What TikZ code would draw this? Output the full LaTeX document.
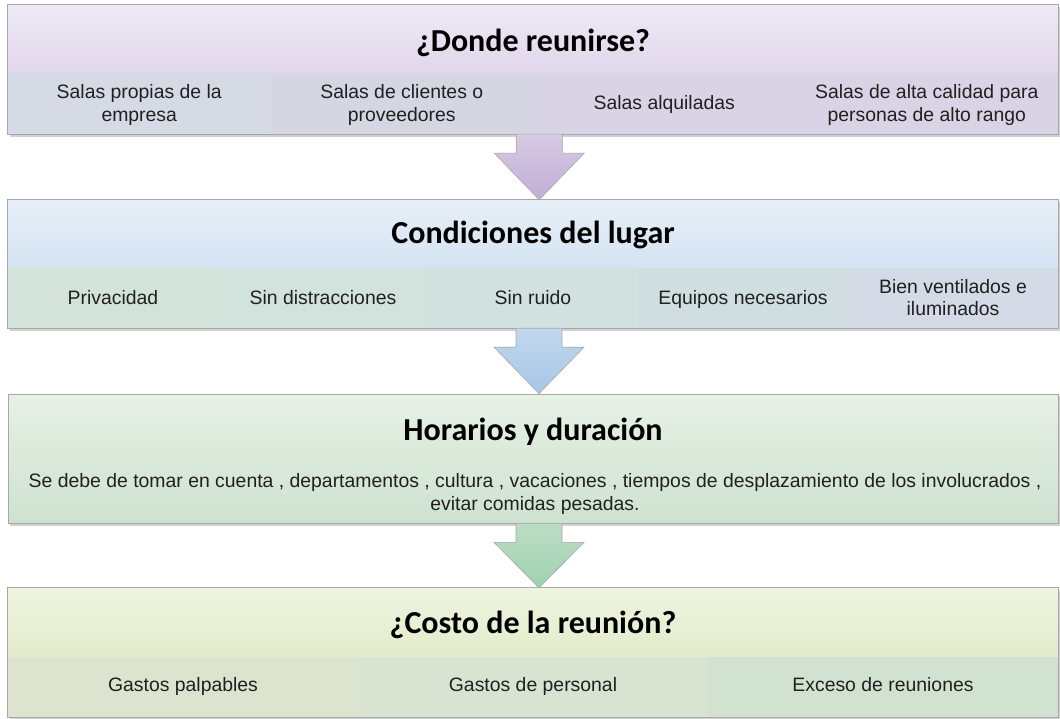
\documentclass[tikz,border=0pt]{standalone}
\usepackage{fontspec}
\setmainfont{Liberation Sans}
\newfontfamily\titlefont{Carlito}
\usetikzlibrary{calc}
\definecolor{tAtop}{HTML}{EFE9F5}\definecolor{tAbot}{HTML}{E0D7EA}
\definecolor{cAa}{HTML}{D5DAE4}\definecolor{cAb}{HTML}{D6D6E3}\definecolor{cAc}{HTML}{D8D4E5}\definecolor{cAd}{HTML}{D9D3E6}
\definecolor{tBtop}{HTML}{E7EFF7}\definecolor{tBbot}{HTML}{D4E3F2}
\definecolor{cBa}{HTML}{D3E3DA}\definecolor{cBb}{HTML}{D2E2DC}\definecolor{cBc}{HTML}{D1E1DF}\definecolor{cBd}{HTML}{D1DEE1}\definecolor{cBe}{HTML}{D5DBE6}
\definecolor{bCtop}{HTML}{E6F1E4}\definecolor{bCbot}{HTML}{CEE2D1}
\definecolor{tDtop}{HTML}{EEF4E0}\definecolor{tDbot}{HTML}{E2ECCB}
\definecolor{cDa}{HTML}{DCE4CF}\definecolor{cDb}{HTML}{D8E3D1}\definecolor{cDc}{HTML}{D1E3D0}
\definecolor{arAtop}{HTML}{D6CAE4}\definecolor{arAbot}{HTML}{C0AED5}
\definecolor{arBtop}{HTML}{C2D8EE}\definecolor{arBbot}{HTML}{A6C6E6}
\definecolor{arCtop}{HTML}{BCDDC4}\definecolor{arCbot}{HTML}{9ED2B0}
\definecolor{edge}{HTML}{A8A8A8}
\definecolor{txt}{HTML}{202020}
\newcommand\sA{\rule[-4.75pt]{0pt}{22.5pt}}
\newcommand\sD{\rule[-7.25pt]{0pt}{22.5pt}}
\tikzset{
  band/.style={inner sep=0pt, minimum width=1050pt, minimum height=#1},
  titletext/.style={inner sep=0pt, anchor=base, font=\titlefont\bfseries\fontsize{32}{36}\selectfont, text=black},
  cellbox/.style={inner sep=0pt, minimum height=61pt, align=center, text=txt, font=\fontsize{19.4}{22.5}\selectfont},
  plaintext/.style={inner sep=0pt, align=center, text=txt, font=\fontsize{19.4}{22.5}\selectfont},
  frame/.style={draw=edge, line width=0.8pt},
  shadowbox/.style={fill=black, opacity=0.18},
  blockarrow/.style={draw=edge, line width=0.6pt}
}
\newcommand\blockarr[4]{% top color, bottom color, start, end
  \shade[blockarrow, top color=#1, bottom color=#2]
    ($(#3)+(-23,0)$) -- ($(#3)+(23,0)$) -- ($(#3)+(23,19)$) -- ($(#3)+(45,19)$)
    -- (#4) -- ($(#3)+(-45,19)$) -- ($(#3)+(-23,19)$) -- cycle;}
\begin{document}
\begin{tikzpicture}[x=1pt,y=-1pt]
\useasboundingbox (0,0) rectangle (1060,719);
% shadows
\fill[shadowbox] (10,7) rectangle (1060,137);
\fill[shadowbox] (10,202) rectangle (1060,331);
\fill[shadowbox] (10,396) rectangle (1060,526);
\fill[shadowbox] (10,590) rectangle (1060,719);

% ---- Box 1
\node[band=68pt, top color=tAtop, bottom color=tAbot] (t1) at (533,39) {};
\node[titletext] (h1) at (533,52) {¿Donde reunirse?};
\node[cellbox, fill=cAa, minimum width=262.5pt] (c11) at (139.25,103.5) {\sA Salas propias de la\\\sA empresa};
\node[cellbox, fill=cAb, minimum width=262.5pt] (c12) at (401.75,103.5) {\sA Salas de clientes o\\\sA proveedores};
\node[cellbox, fill=cAc, minimum width=262.5pt] (c13) at (664.25,103.5) {\sA Salas alquiladas};
\node[cellbox, fill=cAd, minimum width=262.5pt] (c14) at (926.75,103.5) {\sA Salas de alta calidad para\\\sA personas de alto rango};
\draw[frame] (t1.north west) rectangle (c14.south east);

% ---- Box 2
\node[band=68pt, top color=tBtop, bottom color=tBbot] (t2) at (533,234) {};
\node[titletext] (h2) at (533,244) {Condiciones del lugar};
\node[cellbox, minimum height=60pt, fill=cBa, minimum width=210pt] (c21) at (113,298) {\sA Privacidad};
\node[cellbox, minimum height=60pt, fill=cBb, minimum width=210pt] (c22) at (323,298) {\sA Sin distracciones};
\node[cellbox, minimum height=60pt, fill=cBc, minimum width=210pt] (c23) at (533,298) {\sA Sin ruido};
\node[cellbox, minimum height=60pt, fill=cBd, minimum width=210pt] (c24) at (743,298) {\sA Equipos necesarios};
\node[cellbox, minimum height=60pt, fill=cBe, minimum width=210pt] (c25) at (953,298) {\sA Bien ventilados e\\\sA iluminados};
\draw[frame] (t2.north west) rectangle (c25.south east);

% ---- Box 3
\node[band=129pt, top color=bCtop, bottom color=bCbot, frame] (b3) at (533,458.5) {};
\node[titletext] (h3) at (533,440) {Horarios y duración};
\node[plaintext] (x3) at (535,492.5) {\sA Se debe de tomar en cuenta , departamentos , cultura , vacaciones , tiempos de desplazamiento de los involucrados ,\\\sA evitar comidas pesadas.};

% ---- Box 4
\node[band=69pt, top color=tDtop, bottom color=tDbot] (t4) at (533,622.5) {};
\node[titletext] (h4) at (533,633) {¿Costo de la reunión?};
\node[cellbox, minimum height=60pt, fill=cDa, minimum width=350pt] (c41) at (183,687) {\sD Gastos palpables};
\node[cellbox, minimum height=60pt, fill=cDb, minimum width=350pt] (c42) at (533,687) {\sD Gastos de personal};
\node[cellbox, minimum height=60pt, fill=cDc, minimum width=350pt] (c43) at (883,687) {\sD Exceso de reuniones};
\draw[frame] (t4.north west) rectangle (c43.south east);

% ---- arrows
\coordinate (a1s) at ([xshift=6pt]c12.south east);
\coordinate (a1e) at (a1s |- t2.north);
\blockarr{arAtop}{arAbot}{a1s}{a1e}
\coordinate (a2s) at ([xshift=6pt]c23.south);
\coordinate (a2e) at (a2s |- b3.north);
\blockarr{arBtop}{arBbot}{a2s}{a2e}
\coordinate (a3s) at ([xshift=6pt]b3.south);
\coordinate (a3e) at (a3s |- t4.north);
\blockarr{arCtop}{arCbot}{a3s}{a3e}
\end{tikzpicture}
\end{document}
